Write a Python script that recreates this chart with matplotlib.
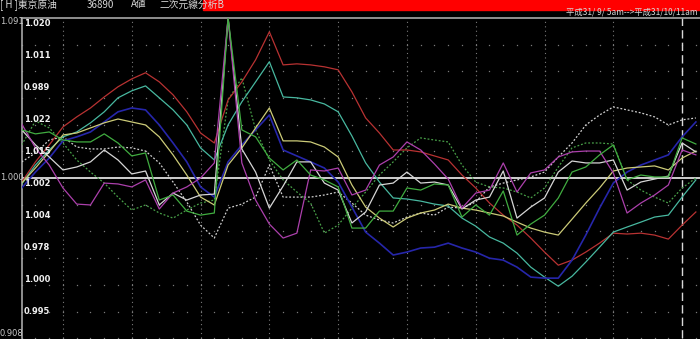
import numpy as np
import matplotlib
matplotlib.use("Agg")
import matplotlib.pyplot as plt

plt.rcParams['font.family'] = ['Noto Sans CJK JP', 'DejaVu Sans']

# 50 time steps (平成31/9/5am -> 平成31/10/11am)
steps = np.arange(50)

red = [0.9977, 1.0092, 1.0189, 1.0292, 1.0349, 1.0400, 1.0463, 1.0521, 1.0566, 1.0601,
       1.0549, 1.0475, 1.0378, 1.0257, 1.0200, 1.0446, 1.0549, 1.0675, 1.0835, 1.0646,
       1.0652, 1.0646, 1.0635, 1.0618, 1.0492, 1.0343, 1.0257, 1.0160, 1.0160, 1.0149,
       1.0126, 1.0103, 1.0017, 0.9943, 0.9857, 0.9788, 0.9731, 0.9657, 0.9577, 0.9502,
       0.9531, 0.9577, 0.9628, 0.9685, 0.9680, 0.9685, 0.9674, 0.9651, 0.9731, 0.9806]
teal = [0.9966, 1.0074, 1.0160, 1.0235, 1.0263, 1.0315, 1.0378, 1.0458, 1.0498, 1.0526,
        1.0458, 1.0389, 1.0303, 1.0172, 1.0103, 1.0303, 1.0435, 1.0549, 1.0664, 1.0463,
        1.0458, 1.0446, 1.0423, 1.0378, 1.0240, 1.0086, 0.9977, 0.9886, 0.9880, 0.9868,
        0.9851, 0.9840, 0.9771, 0.9725, 0.9663, 0.9628, 0.9571, 0.9491, 0.9434, 0.9382,
        0.9439, 0.9520, 0.9605, 0.9691, 0.9720, 0.9748, 0.9777, 0.9788, 0.9891, 0.9989]
blue = [0.9943, 1.0034, 1.0114, 1.0212, 1.0235, 1.0263, 1.0320, 1.0378, 1.0400, 1.0389,
        1.0303, 1.0200, 1.0092, 0.9949, 0.9891, 1.0092, 1.0189, 1.0275, 1.0360, 1.0160,
        1.0126, 1.0092, 1.0057, 0.9977, 0.9834, 0.9691, 0.9628, 0.9560, 0.9577, 0.9600,
        0.9605, 0.9628, 0.9600, 0.9577, 0.9542, 0.9531, 0.9491, 0.9434, 0.9428, 0.9428,
        0.9531, 0.9674, 0.9828, 0.9971, 1.0034, 1.0074, 1.0103, 1.0132, 1.0235, 1.0320]
yellow = [0.9971, 1.0057, 1.0149, 1.0246, 1.0257, 1.0286, 1.0315, 1.0337, 1.0320, 1.0303,
          1.0235, 1.0132, 1.0017, 0.9891, 0.9846, 1.0074, 1.0172, 1.0286, 1.0400, 1.0212,
          1.0212, 1.0206, 1.0177, 1.0120, 0.9960, 0.9834, 0.9771, 0.9720, 0.9771, 0.9800,
          0.9817, 0.9851, 0.9828, 0.9817, 0.9800, 0.9783, 0.9748, 0.9714, 0.9691, 0.9674,
          0.9765, 0.9857, 0.9943, 1.0040, 1.0057, 1.0063, 1.0069, 1.0046, 1.0114, 1.0154]
green = [1.0275, 1.0252, 1.0263, 1.0217, 1.0206, 1.0206, 1.0252, 1.0200, 1.0126, 1.0143,
         0.9874, 0.9903, 0.9811, 0.9788, 0.9800, 1.0915, 1.0275, 1.0235, 1.0114, 1.0046,
         1.0103, 1.0017, 0.9989, 0.9949, 0.9714, 0.9714, 0.9811, 0.9811, 0.9943, 0.9931,
         0.9966, 0.9960, 0.9777, 0.9846, 0.9788, 0.9926, 0.9674, 0.9737, 0.9788, 0.9886,
         1.0034, 1.0063, 1.0132, 1.0189, 0.9989, 1.0017, 1.0006, 1.0006, 1.0229, 1.0194]
white = [1.0275, 1.0189, 1.0120, 1.0046, 1.0063, 1.0092, 1.0160, 1.0103, 1.0023, 1.0040,
         0.9846, 0.9914, 0.9874, 0.9903, 0.9908, 1.0915, 1.0166, 1.0034, 0.9828, 0.9954,
         1.0092, 1.0092, 0.9971, 0.9931, 0.9743, 0.9806, 0.9960, 0.9971, 1.0034, 0.9971,
         0.9977, 0.9960, 0.9823, 0.9874, 0.9891, 1.0040, 0.9771, 0.9834, 0.9886, 1.0034,
         1.0097, 1.0086, 1.0086, 1.0103, 0.9931, 0.9977, 0.9994, 1.0011, 1.0200, 1.0149]
magenta = [1.0309, 1.0172, 1.0074, 0.9943, 0.9851, 0.9846, 0.9971, 0.9966, 0.9949, 0.9989,
           0.9823, 0.9914, 0.9949, 1.0000, 1.0086, 1.0915, 1.0086, 0.9874, 0.9737, 0.9657,
           0.9685, 1.0046, 1.0040, 1.0057, 0.9903, 0.9931, 1.0074, 1.0120, 1.0206, 1.0160,
           1.0080, 0.9994, 0.9828, 0.9914, 0.9931, 1.0086, 0.9920, 1.0029, 1.0046, 1.0120,
           1.0149, 1.0154, 1.0154, 1.0029, 0.9800, 0.9857, 0.9903, 0.9960, 1.0160, 1.0132]
white_dot = [1.0092, 1.0143, 1.0217, 1.0235, 1.0177, 1.0166, 1.0166, 1.0177, 1.0172, 1.0154,
             1.0086, 0.9977, 0.9863, 0.9731, 0.9657, 0.9828, 0.9851, 0.9891, 1.0074, 0.9891,
             0.9891, 0.9891, 0.9903, 0.9920, 0.9857, 0.9788, 0.9760, 0.9743, 0.9777, 0.9800,
             0.9788, 0.9834, 0.9828, 0.9863, 0.9949, 0.9971, 0.9989, 1.0006, 1.0034, 1.0120,
             1.0200, 1.0303, 1.0360, 1.0406, 1.0389, 1.0372, 1.0349, 1.0303, 1.0332, 1.0343]
green_dot = [1.0189, 1.0326, 1.0286, 1.0200, 1.0103, 1.0034, 0.9971, 0.9891, 0.9817, 0.9846,
             0.9800, 0.9771, 0.9817, 0.9857, 0.9874, 1.0446, 1.0572, 1.0275, 1.0103, 0.9989,
             0.9920, 0.9857, 0.9685, 0.9731, 0.9828, 0.9920, 1.0017, 1.0092, 1.0172, 1.0229,
             1.0217, 1.0206, 1.0074, 0.9977, 0.9949, 0.9943, 0.9920, 0.9886, 0.9943, 1.0063,
             1.0172, 1.0200, 1.0200, 1.0194, 0.9989, 0.9931, 0.9891, 0.9857, 0.9943, 1.0000]

inner_labels = ['1.020', '1.011', '0.989', '1.022', '1.015', '1.002', '1.004', '0.978', '1.000', '0.995']
outer_labels = ['1.091', '1.000', '0.908']
y_lo, y_hi = 0.9085, 1.0915

W, H = 700, 339
fig = plt.figure(figsize=(W / 100, H / 100), dpi=100, facecolor='black')
ax = fig.add_axes([21.7 / W, 0.8 / H, 678.3 / W, 320.4 / H], facecolor='black')
ax.set_xlim(0, 49.3)
ax.set_ylim(y_lo, y_hi)
ax.set_xticks([])
ax.set_yticks([])
for s in ['right', 'bottom']:
    ax.spines[s].set_visible(False)
for s in ['left', 'top']:
    ax.spines[s].set_color('#a8a8a8')
    ax.spines[s].set_linewidth(1.2)

# dotted grid
for gx in range(3, 48, 5):
    ax.axvline(gx, color='#7a7a7a', lw=0.8, ls=(0, (1, 3)), zorder=1)
levels = [1.0 + k * (y_hi - y_lo) / 12 for k in range(-6, 6) if k != 0]
for lv in levels:
    ax.plot(steps, [lv] * len(steps), ls='none', marker='s', ms=0.9, color='#7a7a7a',
            mec='none', zorder=1, clip_on=False)
ax.axvline(48, color='#d8d8d8', lw=1.0, ls=(0, (6, 3)), zorder=1)
ax.axhline(1.0, color='#cfcfcf', lw=1.4, zorder=2)

lw = 0.9
ax.plot(steps, white_dot, color='#d0d0d0', lw=lw, ls=(0, (1.5, 1.5)), zorder=3)
ax.plot(steps, green_dot, color='#48a048', lw=lw, ls=(0, (1.5, 1.5)), zorder=3)
ax.plot(steps, red, color='#b83232', lw=lw, zorder=3)
ax.plot(steps, teal, color='#48b8a0', lw=lw, zorder=3)
ax.plot(steps, blue, color='#2626aa', lw=1.2, zorder=3)
ax.plot(steps, yellow, color='#cccb78', lw=lw, zorder=3)
ax.plot(steps, white, color='#d6d6d6', lw=lw, zorder=3)
ax.plot(steps, magenta, color='#ac40ac', lw=lw, zorder=3)
ax.plot(steps, green, color='#40ac40', lw=lw, zorder=4)

# labels inside plot area (each row)
for k, lab in enumerate(inner_labels):
    ax.text(0.003, 1 - k / 10 - 0.004, lab, transform=ax.transAxes, va='top', ha='left',
            color='#f0f0f0', fontsize=6, fontweight='bold', family='DejaVu Sans')

# outer scale labels
fig.text(0, 1 - 21.5 / H, outer_labels[0], color='#c8c8c8', fontsize=6, va='center', family='DejaVu Sans')
fig.text(0, 1 - 178 / H, outer_labels[1], color='#c8c8c8', fontsize=6, va='center', family='DejaVu Sans')
fig.text(0, 1 - 334 / H, outer_labels[2], color='#c8c8c8', fontsize=6, va='center', family='DejaVu Sans')

# header
fig.patches.append(plt.Rectangle((203 / W, 1 - 9.5 / H), 497 / W, 9.5 / H, transform=fig.transFigure,
                                 color='#ff0000', zorder=0))
fig.text(0, 1 - 4.5 / H, '[ H ]東京原油', color='#d8d8d8', fontsize=7, va='center')
fig.text(87 / W, 1 - 4.5 / H, '36890', color='#d8d8d8', fontsize=7, va='center')
fig.text(131 / W, 1 - 4.5 / H, 'A値', color='#d8d8d8', fontsize=7, va='center')
fig.text(160 / W, 1 - 4.5 / H, '二次元線分析B', color='#d8d8d8', fontsize=7, va='center')
fig.text(697 / W, 1 - 12.5 / H, '平成31/ 9/ 5am-->平成31/10/11am', color='#d8d8d8',
         fontsize=6, va='center', ha='right')

fig.savefig('out.png', dpi=100, facecolor='black')
